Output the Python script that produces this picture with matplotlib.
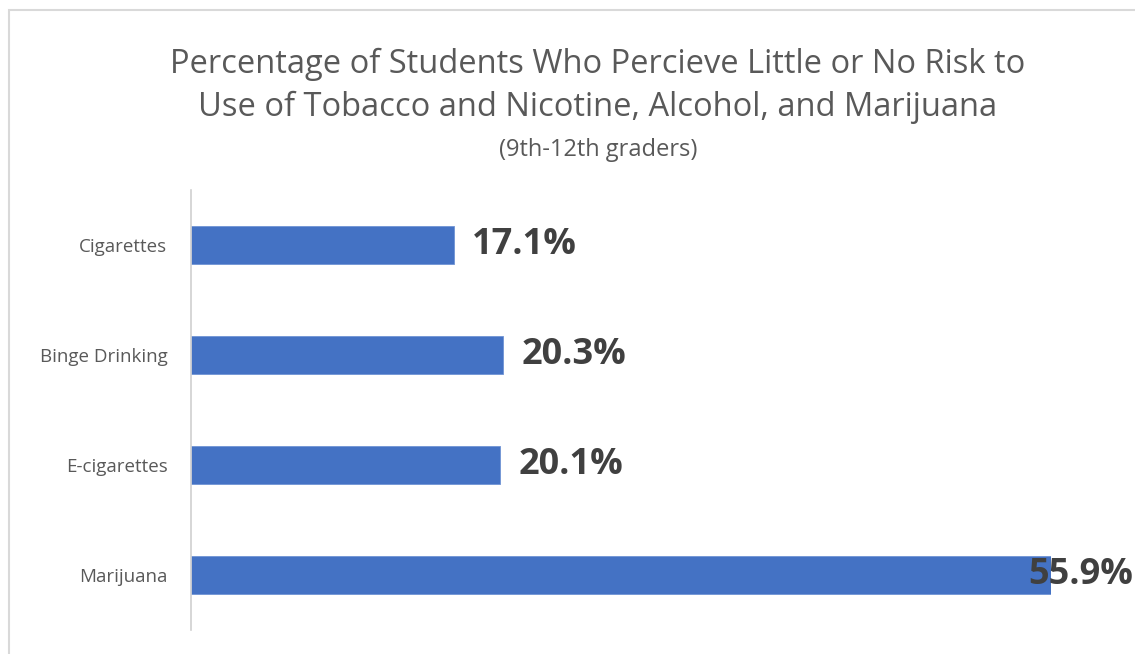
import matplotlib
matplotlib.use("Agg")
import matplotlib.pyplot as plt
from matplotlib.patches import Rectangle

categories = ["Cigarettes", "Binge Drinking", "E-cigarettes", "Marijuana"]
values = [17.1, 20.3, 20.1, 55.9]
labels = ["17.1%", "20.3%", "20.1%", "55.9%"]
title_lines = ["Percentage of Students Who Percieve Little or No Risk to",
               "Use of Tobacco and Nicotine, Alcohol, and Marijuana"]
subtitle = "(9th-12th graders)"

W, H = 1135, 654
fig = plt.figure(figsize=(W/100, H/100), dpi=100)
fig.patch.set_facecolor("white")

# outer chart border
fig.add_artist(Rectangle((9/W, -0.1), 1.2, (H-10)/H + 0.1, transform=fig.transFigure,
                         fill=False, edgecolor="#d9d9d9", linewidth=1.5))

ax = fig.add_axes([191/W, (H-630)/H, (1051-191)/W, (630-190)/H])
y = list(range(len(categories)))
ax.barh(y, values, height=0.35, color="#4472C4", edgecolor="#6f93d4", linewidth=0.6)
ax.set_xlim(0, max(values))
ax.set_ylim(len(categories)-0.5, -0.5)
ax.set_yticks(y)
ax.set_yticklabels(categories, fontsize=13.5, color="#595959", family="Open Sans")
ax.tick_params(axis="y", length=0, pad=17)
ax.set_xticks([])
for s in ["top", "right", "bottom"]:
    ax.spines[s].set_visible(False)
ax.spines["left"].set_color("#d0d0d0")
ax.spines["left"].set_linewidth(1.2)

for i, (v, lab) in enumerate(zip(values, labels)):
    if v >= max(values):
        ax.annotate(lab, xy=(v, i), xytext=((1133-1051)*0.72, 0), textcoords="offset points",
                    ha="right", va="center", fontsize=26, fontweight="bold",
                    color="#404040", family="Open Sans", annotation_clip=False)
    else:
        ax.annotate(lab, xy=(v, i), xytext=(13, 0), textcoords="offset points",
                    ha="left", va="center", fontsize=26, fontweight="bold",
                    color="#404040", family="Open Sans", annotation_clip=False)

cx = 598/W
fig.text(cx, 1-64/H, title_lines[0], ha="center", va="center", fontsize=23.5,
         color="#595959", family="Open Sans")
fig.text(cx, 1-107/H, title_lines[1], ha="center", va="center", fontsize=23.5,
         color="#595959", family="Open Sans")
fig.text(cx, 1-150/H, subtitle, ha="center", va="center", fontsize=17,
         color="#595959", family="Open Sans")

fig.savefig("out.png", dpi=100)
